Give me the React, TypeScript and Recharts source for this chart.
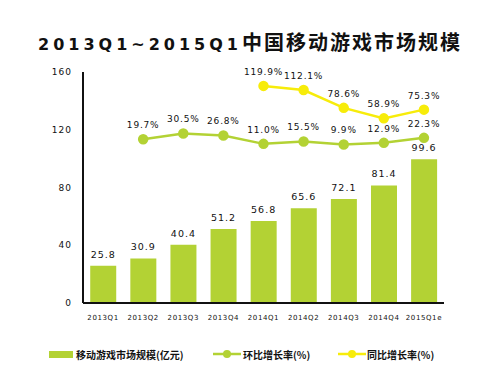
import {
    ComposedChart, Bar, Line, XAxis, YAxis, LabelList
} from 'recharts';

const quarters = ['2013Q1', '2013Q2', '2013Q3', '2013Q4', '2014Q1', '2014Q2', '2014Q3', '2014Q4', '2015Q1e'];
const marketSize = [25.8, 30.9, 40.4, 51.2, 56.8, 65.6, 72.1, 81.4, 99.6];
const qoqGrowth = [null, 19.7, 30.5, 26.8, 11.0, 15.5, 9.9, 12.9, 22.3];
const yoyGrowth = [null, null, null, null, 119.9, 112.1, 78.6, 58.9, 75.3];
const yTicks = [0, 40, 80, 120, 160];

const data = quarters.map((q, i) => ({
    quarter: q,
    size: marketSize[i],
    qoq: qoqGrowth[i],
    yoy: yoyGrowth[i],
}));

const GREEN = '#b3d234';
const YELLOW = '#f7ec0a';
const latin = '"DejaVu Sans", sans-serif';
const cjk = '"Noto Sans CJK SC", sans-serif';

const pct = (v: any) => (v == null ? '' : `${Number(v).toFixed(1)}%`);

function LegendRow() {
    const txt = { fontFamily: cjk, fontWeight: 700, fontSize: 10, color: '#111' };
    return (
        <div style={{ position: 'absolute', top: 347, left: 0, width: 500, height: 16 }}>
            <div style={{ position: 'absolute', left: 49, top: 4, width: 24, height: 7, background: GREEN }} />
            <div style={{ ...txt, position: 'absolute', left: 76, top: 0 }}>移动游戏市场规模(亿元)</div>
            <svg style={{ position: 'absolute', left: 213, top: 1 }} width={28} height={12}>
                <line x1={0} y1={6} x2={28} y2={6} stroke={GREEN} strokeWidth={2.5} />
                <circle cx={14} cy={6} r={4} fill={GREEN} />
            </svg>
            <div style={{ ...txt, position: 'absolute', left: 243, top: 0 }}>环比增长率(%)</div>
            <svg style={{ position: 'absolute', left: 338, top: 1 }} width={28} height={12}>
                <line x1={0} y1={6} x2={28} y2={6} stroke={YELLOW} strokeWidth={2.5} />
                <circle cx={14} cy={6} r={4} fill={YELLOW} />
            </svg>
            <div style={{ ...txt, position: 'absolute', left: 367, top: 0 }}>同比增长率(%)</div>
        </div>
    );
}

export default function App() {
    const barLabel = { fontFamily: latin, fontSize: 9.5, fill: '#111', letterSpacing: 1 };
    const lineLabel = { fontFamily: latin, fontSize: 9, fill: '#111', letterSpacing: 0.8 };
    return (
        <div style={{ position: 'absolute', left: 0, top: 0, width: 500, height: 375, background: '#fff' }}>
            <div style={{
                position: 'absolute', top: 27, left: 0, width: 500, textAlign: 'center',
                fontWeight: 700, color: '#111', whiteSpace: 'nowrap'
            }}>
                <span style={{ fontFamily: latin, fontSize: 16, letterSpacing: 4 }}>2013Q1~2015Q1</span>
                <span style={{ fontFamily: cjk, fontSize: 20, letterSpacing: 2 }}>中国移动游戏市场规模</span>
            </div>
            <ComposedChart
                width={500}
                height={375}
                data={data}
                margin={{ top: 72, right: 56, left: 43, bottom: 52 }}
                barCategoryGap="18%"
            >
                <XAxis
                    dataKey="quarter"
                    tickLine={false}
                    axisLine={{ stroke: '#111', strokeWidth: 2 }}
                    tick={{ fontFamily: latin, fontSize: 7, fill: '#111', letterSpacing: 0.6, dy: 4 }}
                    interval={0}
                    height={20}
                />
                <YAxis
                    yAxisId="left"
                    domain={[0, 160]}
                    ticks={yTicks}
                    tickLine={false}
                    axisLine={{ stroke: '#111', strokeWidth: 2 }}
                    tick={{ fontFamily: latin, fontSize: 9, fill: '#111', letterSpacing: 1, dx: -3 }}
                    width={40}
                />
                <YAxis yAxisId="right" orientation="right" domain={[-288, 146]} hide />
                <Bar yAxisId="left" dataKey="size" fill={GREEN} isAnimationActive={false}>
                    <LabelList dataKey="size" position="top" offset={8} style={barLabel} />
                </Bar>
                <Line
                    yAxisId="right"
                    dataKey="qoq"
                    stroke={GREEN}
                    strokeWidth={2.5}
                    dot={{ r: 4, fill: GREEN, stroke: GREEN }}
                    isAnimationActive={false}
                >
                    <LabelList dataKey="qoq" position="top" offset={11} formatter={pct} style={lineLabel} />
                </Line>
                <Line
                    yAxisId="right"
                    dataKey="yoy"
                    stroke={YELLOW}
                    strokeWidth={2.5}
                    dot={{ r: 4, fill: YELLOW, stroke: YELLOW }}
                    isAnimationActive={false}
                >
                    <LabelList dataKey="yoy" position="top" offset={11} formatter={pct} style={lineLabel} />
                </Line>
            </ComposedChart>
            <LegendRow />
        </div>
    );
}
